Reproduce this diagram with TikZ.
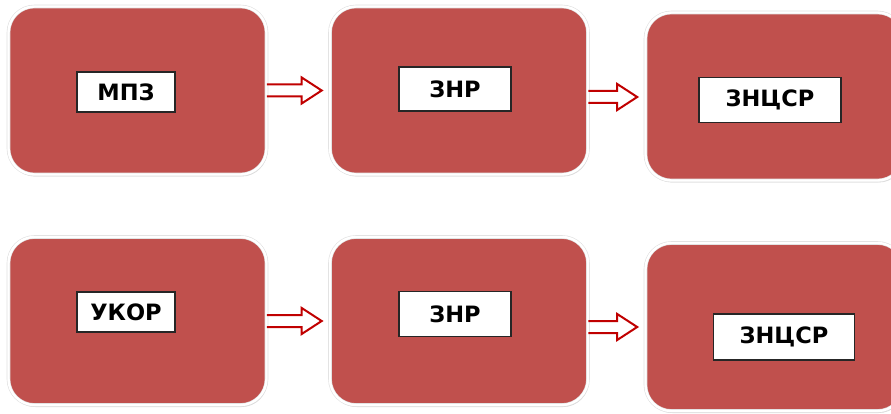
\documentclass[tikz,border=0pt]{standalone}
\usepackage{fontspec}
\setmainfont{DejaVu Sans}
\usetikzlibrary{shadows,calc}
\definecolor{boxred}{HTML}{C0504D}
\definecolor{arrowred}{HTML}{C00000}

\begin{document}
\begin{tikzpicture}[x=1pt,y=-1pt,
  block/.style={fill=boxred, draw=black!12, line width=0.6pt, double=white,
    double distance=2.4pt, rounded corners=26pt,
    minimum width=258pt, minimum height=168pt, inner sep=0pt,
    drop shadow={shadow xshift=1pt, shadow yshift=-2pt, opacity=0.25, fill=black!60}},
  tag/.style={fill=white, draw=black!85, line width=1.1pt, inner sep=0pt,
    font=\bfseries\fontsize{22.5}{26}\selectfont},
  hollow/.style={draw=arrowred, line width=2pt,
    to path={let \p1=(\tikztostart), \p2=(\tikztotarget) in
      (\x1,\y1+6) -- (\x2-28,\y1+6) -- (\x2-28,\y1+13) -- (\x2-8,\y1)
      -- (\x2-28,\y1-13) -- (\x2-28,\y1-6) -- (\x1,\y1-6)}}]
\useasboundingbox (0,0) rectangle (891,414);
% first row
\node[block] (mpzbox) at (137.5,90.5) {};
\node[block] (znrbox) at (459,90.5) {};
\node[block] (zncsrbox) at (774.5,96.5) {};
\node[tag, minimum width=98pt, minimum height=40pt] (mpz) at (126,92) {МПЗ};
\node[tag, minimum width=112pt, minimum height=44pt] (znr) at (455,89) {ЗНР};
\node[tag, minimum width=142pt, minimum height=45pt] (zncsr) at (770,100) {ЗНЦСР};
\draw[hollow] (mpzbox.east) to (znrbox.west);
\draw[hollow] ([yshift=-6.5pt]znrbox.east) to (zncsrbox.west);
% second row
\node[block] (ukorbox) at (137.5,321) {};
\node[block] (znrboxb) at (459,321) {};
\node[block] (zncsrboxb) at (774.5,327) {};
\node[tag, minimum width=98pt, minimum height=40pt] (ukor) at (126,312) {УКОР};
\node[tag, minimum width=112pt, minimum height=45pt] (znrb) at (455,314) {ЗНР};
\node[tag, minimum width=141pt, minimum height=46pt] (zncsrb) at (784,337) {ЗНЦСР};
\draw[hollow] (ukorbox.east) to (znrboxb.west);
\draw[hollow] ([yshift=-6pt]znrboxb.east) to (zncsrboxb.west);
\end{tikzpicture}
\end{document}
